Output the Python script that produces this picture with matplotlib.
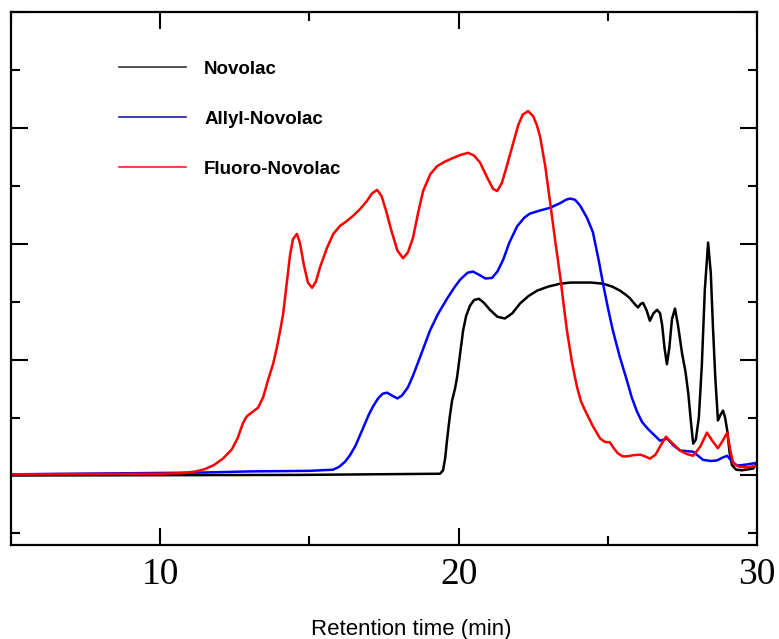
import matplotlib
matplotlib.use("Agg")
from matplotlib import pyplot as plt
from matplotlib.lines import Line2D
from matplotlib.ticker import MultipleLocator, NullFormatter

# retention time (min) / detector response (arb. units)
novolac_x = [5.0, 14.7, 19.38, 19.48, 19.55, 19.61, 19.7, 19.78, 19.88, 19.95, 20.05, 20.15,
             20.25, 20.38, 20.52, 20.68, 20.85, 21.05, 21.3, 21.55, 21.8, 22.06, 22.35,
             22.63, 23.0, 23.4, 23.75, 24.07, 24.45, 24.84, 25.15, 25.41, 25.6, 25.74,
             25.9, 26.01, 26.1, 26.18, 26.3, 26.41, 26.53, 26.65, 26.75, 26.82, 26.9,
             26.98, 27.06, 27.15, 27.25, 27.35, 27.49, 27.6, 27.7, 27.78, 27.86, 27.95,
             28.05, 28.15, 28.25, 28.36, 28.45, 28.52, 28.6, 28.69, 28.78, 28.86, 28.93,
             29.0, 29.08, 29.16, 29.3, 29.5, 29.87, 30.0]
novolac_y = [0.0, 0.01, 0.03, 0.09, 0.3, 0.6, 1.0, 1.29, 1.5, 1.7, 2.1, 2.5,
             2.75, 2.93, 3.03, 3.05, 2.98, 2.86, 2.74, 2.71, 2.8, 2.97, 3.1,
             3.19, 3.26, 3.31, 3.33, 3.33, 3.33, 3.31, 3.26, 3.19, 3.12, 3.06,
             2.96, 2.9, 2.96, 2.98, 2.85, 2.67, 2.8, 2.86, 2.8, 2.6, 2.2,
             1.92, 2.2, 2.7, 2.88, 2.6, 2.1, 1.8, 1.4, 0.95, 0.55, 0.62,
             1.0, 1.9, 3.2, 4.02, 3.5, 2.6, 1.7, 0.95, 1.05, 1.12, 1.0,
             0.78, 0.4, 0.18, 0.1, 0.09, 0.12, 0.22]

allyl_x = [5.0, 11.33, 13.0, 15.0, 15.79, 16.0, 16.2, 16.36, 16.55, 16.8, 17.0, 17.13,
           17.3, 17.45, 17.6, 17.8, 17.95, 18.1, 18.3, 18.47, 18.75, 19.04, 19.3,
           19.61, 19.85, 20.05, 20.3, 20.48, 20.7, 20.9, 21.12, 21.3, 21.49, 21.7,
           21.96, 22.2, 22.39, 22.7, 23.06, 23.4, 23.6, 23.73, 23.9, 24.07, 24.3,
           24.5, 24.7, 24.84, 25.0, 25.17, 25.4, 25.64, 25.8, 25.98, 26.15, 26.35,
           26.55, 26.75, 26.9, 26.98, 27.2, 27.42, 27.65, 27.86, 28.0, 28.19, 28.45,
           28.66, 28.85, 29.0, 29.15, 29.33, 29.66, 30.0]
allyl_y = [0.02, 0.05, 0.07, 0.08, 0.1, 0.15, 0.24, 0.35, 0.52, 0.82, 1.06, 1.19,
           1.33, 1.41, 1.43, 1.37, 1.33, 1.38, 1.52, 1.72, 2.1, 2.5, 2.78,
           3.05, 3.24, 3.38, 3.5, 3.52, 3.46, 3.4, 3.41, 3.52, 3.72, 4.02,
           4.3, 4.45, 4.52, 4.57, 4.62, 4.7, 4.76, 4.78, 4.76, 4.66, 4.45,
           4.2, 3.7, 3.31, 2.9, 2.5, 2.05, 1.64, 1.35, 1.1, 0.92, 0.8,
           0.7, 0.6, 0.62, 0.64, 0.52, 0.43, 0.42, 0.41, 0.35, 0.27, 0.25,
           0.26, 0.31, 0.34, 0.25, 0.17, 0.19, 0.22]

fluoro_x = [5.0, 10.0, 10.7, 11.2, 11.5, 11.8, 12.1, 12.4, 12.6, 12.77, 12.9, 13.05,
            13.28, 13.45, 13.61, 13.78, 13.91, 14.02, 14.12, 14.25, 14.35, 14.45, 14.58,
            14.68, 14.82, 14.95, 15.09, 15.22, 15.36, 15.59, 15.8, 16.03, 16.25, 16.46,
            16.7, 16.93, 17.1, 17.27, 17.42, 17.58, 17.75, 17.95, 18.14, 18.3, 18.47,
            18.65, 18.81, 19.05, 19.28, 19.55, 19.81, 20.05, 20.32, 20.52, 20.72, 20.95,
            21.15, 21.29, 21.45, 21.62, 21.82, 22.0, 22.15, 22.33, 22.5, 22.62, 22.73,
            22.9, 23.06, 23.25, 23.4, 23.52, 23.63, 23.8, 23.97, 24.1, 24.24, 24.5,
            24.74, 24.9, 25.07, 25.2, 25.34, 25.5, 25.64, 25.85, 26.08, 26.25, 26.41,
            26.6, 26.75, 26.95, 27.08, 27.18, 27.42, 27.65, 27.86, 28.1, 28.32, 28.5,
            28.69, 28.85, 29.0, 29.1, 29.2, 29.4, 29.66, 30.0]
fluoro_y = [0.02, 0.03, 0.04, 0.07, 0.11, 0.18, 0.29, 0.45, 0.65, 0.9, 1.02, 1.08,
            1.17, 1.35, 1.64, 1.92, 2.21, 2.5, 2.79, 3.36, 3.8, 4.08, 4.17,
            4.02, 3.62, 3.33, 3.24, 3.35, 3.6, 3.93, 4.17, 4.31, 4.39, 4.48,
            4.6, 4.74, 4.87, 4.93, 4.82, 4.55, 4.22, 3.88, 3.75, 3.85, 4.1,
            4.55, 4.91, 5.2, 5.34, 5.42, 5.48, 5.53, 5.57, 5.52, 5.4, 5.15,
            4.95, 4.91, 5.05, 5.35, 5.72, 6.05, 6.23, 6.29, 6.2, 6.05, 5.85,
            5.35, 4.74, 4.0, 3.45, 2.95, 2.5, 1.95, 1.52, 1.28, 1.12, 0.85,
            0.64, 0.58, 0.57, 0.47, 0.38, 0.33, 0.33, 0.35, 0.36, 0.33, 0.29,
            0.36, 0.5, 0.67, 0.6, 0.55, 0.43, 0.37, 0.34, 0.5, 0.74, 0.6,
            0.47, 0.6, 0.74, 0.45, 0.21, 0.15, 0.14, 0.17]

labels = ["Novolac", "Allyl-Novolac", "Fluoro-Novolac"]

fig = plt.figure(figsize=(7.79, 6.39), dpi=100)
ax = fig.add_axes([0.0141, 0.1471, 0.9577, 0.8341])

ax.plot(novolac_x, novolac_y, color="black", lw=1.8)
ax.plot(allyl_x, allyl_y, color="#0000ff", lw=1.8)
ax.plot(fluoro_x, fluoro_y, color="#ff0000", lw=1.8)

ax.set_xlim(5, 30)
ax.set_ylim(-1.2, 8)

ax.xaxis.set_major_locator(MultipleLocator(10))
ax.xaxis.set_minor_locator(MultipleLocator(5))
ax.yaxis.set_major_locator(MultipleLocator(2))
ax.yaxis.set_minor_locator(MultipleLocator(1))
ax.yaxis.set_major_formatter(NullFormatter())
ax.tick_params(which="both", direction="in", top=True, right=True, width=1.5)
ax.tick_params(which="major", length=12)
ax.tick_params(which="minor", length=6.5)
ax.tick_params(axis="x", which="major", pad=9, labelsize=27)
for lab in ax.get_xticklabels():
    lab.set_family("Liberation Serif")
for s in ax.spines.values():
    s.set_linewidth(1.6)

ax.set_xlabel("Retention time (min)", fontsize=16, family="Liberation Sans")
ax.xaxis.set_label_coords(0.536, -0.138)

handles = [Line2D([], [], color="#333333", lw=1.2),
           Line2D([], [], color="#1a1aa0", lw=1.2),
           Line2D([], [], color="#ff2020", lw=1.2)]
leg = ax.legend(handles, labels, loc="upper left", bbox_to_anchor=(0.122, 0.94),
                frameon=False, handlelength=3.6, handletextpad=0.95, labelspacing=1.75,
                prop={"family": "Liberation Sans", "weight": "bold", "size": 13.5})

fig.savefig("out.png", dpi=100)
